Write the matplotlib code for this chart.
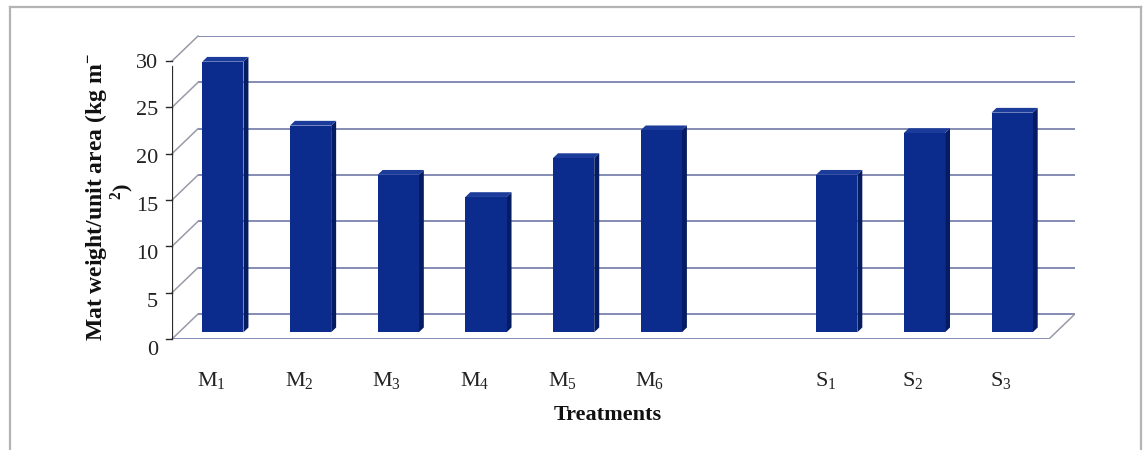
import matplotlib
matplotlib.use("Agg")
import matplotlib.pyplot as plt
from matplotlib.lines import Line2D

# ---------------- data ----------------
m_labels = ["M_1", "M_2", "M_3", "M_4", "M_5", "M_6"]
m_values = [29.2, 22.3, 17.0, 14.6, 18.8, 21.8]
s_labels = ["S_1", "S_2", "S_3"]
s_values = [17.0, 21.5, 23.7]
y_ticks = [0, 5, 10, 15, 20, 25, 30]
x_title = "Treatments"
y_title_1 = "Mat weight/unit area (kg m$^{-}$"
y_title_2 = "$^{2}$)"

# ---------------- style ----------------
plt.rcParams["font.family"] = ["Liberation Serif", "DejaVu Serif"]
plt.rcParams["mathtext.default"] = "regular"

W, H = 1145, 450
fig = plt.figure(figsize=(W / 100, H / 100), dpi=100)
fig.patch.set_facecolor("white")

labels = m_labels + [None] + s_labels
values = m_values + [None] + s_values
n_slots = len(labels)

DX, DY = 0.297, 2.7          # oblique depth of the 3-D box (data units)
ymax = max(y_ticks)

ax = fig.add_axes([172 / W, 111 / H, 903 / W, 303 / H])
ax.set_xlim(0, n_slots + DX)
ax.set_ylim(0, ymax + DY)
ax.axis("off")

grid_c = "#858cb3"
wall_c = "#9a9aa8"

# back wall gridlines
for v in y_ticks:
    ax.plot([DX, n_slots + DX], [v + DY, v + DY], color=grid_c, lw=1.4,
            zorder=1, solid_capstyle="butt")
# left wall diagonals
for v in y_ticks:
    ax.plot([0, DX], [v, v + DY], color=wall_c, lw=1.1, zorder=1, clip_on=False)
# floor
ax.plot([0, n_slots], [0, 0], color=grid_c, lw=1.4, zorder=1)
ax.plot([n_slots, n_slots + DX], [0, DY], color=wall_c, lw=1.1, zorder=1)
# front value axis and ticks
ax.plot([0, 0], [0, ymax - 0.6], color="#2a2a2a", lw=1.6, zorder=2)
for v in y_ticks:
    ax.plot([-0.07, 0], [v, v], color="#2a2a2a", lw=1.0, zorder=2, clip_on=False)
    ax.text(-0.16, v * 1.032 - 1.19, str(v), ha="right", va="center",
            fontsize=16, color="#222222", clip_on=False)

# bars (pseudo 3-D)
front_c = "#0b2c8c"
top_c = "#1b3c9a"
side_c = "#061c62"
f0, bd = 0.27, 0.19
ox, oy = f0 * DX, f0 * DY
ddx, ddy = bd * DX, bd * DY
bw = 0.47
for i, (lab, val) in enumerate(zip(labels, values)):
    if val is None:
        continue
    xc = i + 0.5 + ox
    xl, xr = xc - bw / 2, xc + bw / 2
    top = oy + val
    ax.fill([xr, xr + ddx, xr + ddx, xr], [oy, oy + ddy, top + ddy, top],
            color=side_c, lw=0, zorder=4)
    ax.fill([xl, xr, xr + ddx, xl + ddx], [top, top, top + ddy, top + ddy],
            color=top_c, lw=0, zorder=4)
    ax.bar(xc, val, width=bw, bottom=oy, color=front_c, lw=0, zorder=5)
    ax.text(i + 0.45, -4.5, r"$\mathregular{" + lab + "}$", ha="center",
            va="center", fontsize=16, color="#222222", clip_on=False)

# axis titles
fig.text(608 / W, 1 - 415 / H, x_title, ha="center", va="center",
         fontsize=16, fontweight="bold", color="#111111")
fig.text(96 / W, 1 - 197 / H, y_title_1, ha="center", va="center",
         rotation=90, fontsize=17, fontweight="bold", color="#111111")
fig.text(122 / W, 1 - 192 / H, y_title_2, ha="center", va="center",
         rotation=90, fontsize=16, fontweight="bold", color="#111111")

# outer frame of the chart area
frame_c = "#b4b4b4"
fig.add_artist(Line2D([10 / W, 10 / W], [0, 1 - 7 / H], color=frame_c, lw=1.6,
                      transform=fig.transFigure))
fig.add_artist(Line2D([10 / W, 1141 / W], [1 - 7 / H, 1 - 7 / H], color=frame_c,
                      lw=1.6, transform=fig.transFigure))
fig.add_artist(Line2D([1141 / W, 1141 / W], [0, 1 - 7 / H], color=frame_c,
                      lw=1.6, transform=fig.transFigure))

fig.savefig("out.png", dpi=100)
